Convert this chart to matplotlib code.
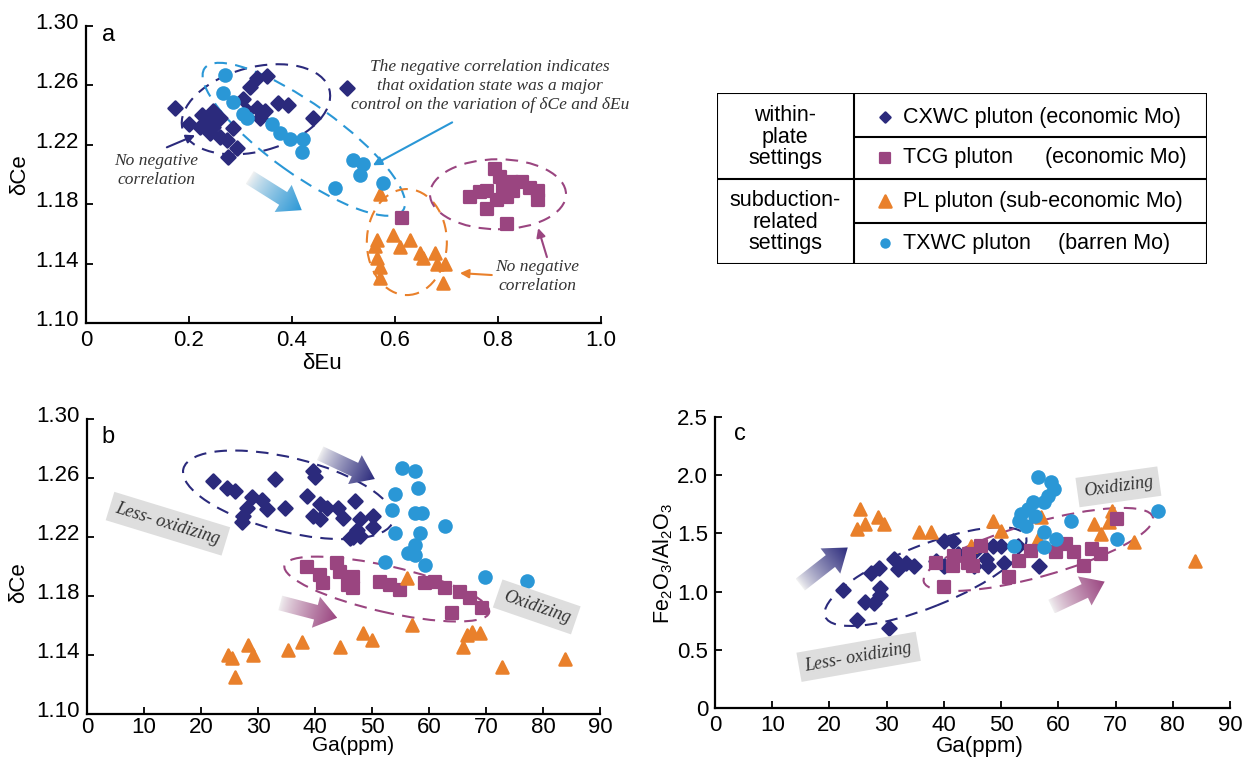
import numpy as np
import matplotlib
matplotlib.use("Agg")
import matplotlib.pyplot as plt
import matplotlib.transforms as mtransforms
from matplotlib.patches import Ellipse, Polygon, Rectangle
from matplotlib.markers import MarkerStyle
from matplotlib.colors import to_rgb

plt.rcParams['font.family'] = ['Liberation Sans', 'DejaVu Sans']
plt.rcParams['mathtext.fontset'] = 'custom'
plt.rcParams['mathtext.rm'] = 'Liberation Sans'
plt.rcParams['mathtext.it'] = 'Liberation Sans:italic'

# --- colours ---
NAVY = '#2b2a7c'
PURPLE = '#9a4580'
ORANGE = '#e9802b'
BLUE = '#2a97d6'
TXT = '#333333'

# --- panel a: dEu vs dCe ---
cxwc_a_eu = [0.173, 0.200, 0.225, 0.237, 0.247, 0.241, 0.260, 0.274, 0.293, 0.276, 0.286, 0.305, 0.318,
             0.332, 0.351, 0.312, 0.332, 0.348, 0.373, 0.392, 0.441, 0.507, 0.338, 0.260, 0.247, 0.221]
cxwc_a_ce = [1.2445, 1.234, 1.240, 1.236, 1.232, 1.228, 1.225, 1.223, 1.218, 1.212, 1.231, 1.251, 1.259,
             1.265, 1.266, 1.243, 1.245, 1.243, 1.248, 1.247, 1.238, 1.258, 1.238, 1.238, 1.243, 1.232]
tcg_a_eu = [0.614, 0.746, 0.765, 0.778, 0.794, 0.804, 0.810, 0.817, 0.829, 0.847, 0.862, 0.878, 0.878,
            0.778, 0.817, 0.798, 0.827]
tcg_a_ce = [1.1706, 1.185, 1.188, 1.189, 1.204, 1.198, 1.191, 1.185, 1.189, 1.195, 1.191, 1.189, 1.183,
            1.177, 1.167, 1.183, 1.195]
pl_a_eu = [0.571, 0.565, 0.596, 0.610, 0.629, 0.565, 0.571, 0.571, 0.649, 0.654, 0.678, 0.681, 0.697,
           0.693, 0.561]
pl_a_ce = [1.187, 1.156, 1.159, 1.151, 1.156, 1.144, 1.138, 1.130, 1.147, 1.144, 1.147, 1.140, 1.140,
           1.127, 1.152]
txwc_a_eu = [0.270, 0.266, 0.285, 0.312, 0.305, 0.361, 0.377, 0.396, 0.421, 0.419, 0.518, 0.538, 0.532,
             0.577, 0.483]
txwc_a_ce = [1.267, 1.255, 1.249, 1.238, 1.241, 1.234, 1.228, 1.224, 1.224, 1.215, 1.210, 1.207, 1.200,
             1.194, 1.191]

# --- panel b: Ga vs dCe ---
cxwc_b_ga = [22.1, 24.5, 26.0, 33.0, 39.6, 40.0, 28.9, 30.7, 31.6, 28.0, 27.4, 27.2, 34.7, 38.6, 40.9,
             42.1, 44.0, 39.7, 40.9, 44.9, 47.0, 47.9, 50.2, 47.4, 46.7, 50.2, 47.9, 46.1]
cxwc_b_ce = [1.258, 1.253, 1.251, 1.259, 1.265, 1.261, 1.247, 1.245, 1.239, 1.240, 1.234, 1.230, 1.240,
             1.248, 1.2425, 1.240, 1.240, 1.2345, 1.232, 1.233, 1.2445, 1.2325, 1.2345, 1.2245, 1.2197,
             1.2265, 1.221, 1.219]
tcg_b_ga = [38.6, 40.9, 41.4, 43.9, 44.4, 46.7, 45.8, 46.7, 51.4, 53.2, 54.9, 59.3, 61.1, 62.8, 65.4,
            67.2, 69.3, 64.0]
tcg_b_ce = [1.1995, 1.194, 1.1887, 1.2022, 1.196, 1.1928, 1.1874, 1.1854, 1.1894, 1.1874, 1.184, 1.1887,
            1.1894, 1.1854, 1.1827, 1.1787, 1.172, 1.1686]
pl_b_ga = [24.7, 25.4, 26.0, 28.3, 29.1, 35.3, 37.7, 44.4, 48.4, 50.0, 56.1, 57.0, 66.0, 66.7, 67.5,
           68.9, 72.8, 83.9]
pl_b_ce = [1.1403, 1.138, 1.1249, 1.147, 1.1403, 1.1437, 1.149, 1.1457, 1.155, 1.1504, 1.192, 1.1605,
           1.1457, 1.1538, 1.1558, 1.1551, 1.1316, 1.137]
txwc_b_ga = [55.3, 57.5, 58.1, 54.0, 53.5, 57.5, 58.8, 54.0, 58.4, 62.8, 57.5, 56.3, 57.5, 52.3, 59.3,
             69.8, 77.2]
txwc_b_ce = [1.2667, 1.2647, 1.2533, 1.249, 1.238, 1.236, 1.236, 1.223, 1.223, 1.2277, 1.2143, 1.209,
             1.2076, 1.2029, 1.201, 1.1928, 1.190]

# --- panel c: Ga vs Fe2O3/Al2O3 ---
cxwc_c_ga = [22.3, 24.9, 26.3, 27.7, 28.9, 28.9, 27.2, 28.6, 30.4, 31.2, 31.9, 33.3, 34.7, 40.0, 41.6,
             38.6, 40.0, 42.5, 45.3, 47.4, 47.7, 48.6, 50.0, 50.5, 53.0, 56.7, 45.3]
cxwc_c_fa = [1.017, 0.759, 0.914, 0.905, 1.034, 0.974, 1.164, 1.207, 0.690, 1.276, 1.190, 1.250, 1.216,
             1.431, 1.431, 1.259, 1.216, 1.319, 1.336, 1.276, 1.216, 1.388, 1.388, 1.250, 1.388, 1.216,
             1.216]
tcg_c_ga = [38.6, 40.0, 41.8, 41.6, 44.2, 44.4, 46.5, 45.1, 51.4, 53.2, 55.3, 59.6, 61.4, 62.8, 64.4,
            65.8, 67.5, 70.2]
tcg_c_fa = [1.250, 1.043, 1.302, 1.216, 1.250, 1.319, 1.388, 1.216, 1.129, 1.259, 1.345, 1.336, 1.405,
            1.336, 1.216, 1.362, 1.319, 1.620]
pl_c_ga = [25.4, 24.9, 26.3, 28.4, 29.5, 35.6, 37.7, 44.7, 48.6, 50.0, 56.5, 57.0, 66.3, 67.5, 68.8,
           69.3, 73.2, 83.9]
pl_c_fa = [1.707, 1.534, 1.578, 1.638, 1.578, 1.509, 1.509, 1.388, 1.603, 1.517, 1.448, 1.638, 1.578,
           1.491, 1.595, 1.690, 1.422, 1.259]
txwc_c_ga = [56.5, 58.8, 59.3, 58.2, 57.5, 55.6, 54.7, 53.5, 53.2, 54.4, 57.5, 59.6, 57.5, 52.3, 62.3,
             70.2, 77.5, 56.0]
txwc_c_fa = [1.983, 1.940, 1.879, 1.819, 1.767, 1.767, 1.707, 1.664, 1.603, 1.560, 1.509, 1.448, 1.379,
             1.388, 1.603, 1.448, 1.690, 1.650]

legend_names = ['CXWC pluton (economic Mo)', 'TCG pluton', 'PL pluton (sub-economic Mo)', 'TXWC pluton']
legend_tails = ['', '(economic Mo)', '', '(barren Mo)']

W, H, DPI = 1246, 758, 100
fig = plt.figure(figsize=(W / DPI, H / DPI), dpi=DPI)

STYLES = {
    'cxwc': dict(marker=MarkerStyle('D', joinstyle='round'), ms=7, color=NAVY, mec=NAVY, mew=1.8),
    'tcg': dict(marker=MarkerStyle('s', joinstyle='round'), ms=8, color=PURPLE, mec=PURPLE, mew=1.6),
    'pl': dict(marker=MarkerStyle('^', joinstyle='round'), ms=8.5, color=ORANGE, mec=ORANGE, mew=1.8),
    'txwc': dict(marker='o', ms=10.5, color=BLUE, mec=BLUE, mew=0),
}


def pts(ax, x, y, key, z=3):
    ax.plot(x, y, ls='none', zorder=z, **STYLES[key])


def setup(ax, xlim, ylim, xticks, xlabels, yticks, ylabels, shift_y=True):
    ax.set_xlim(*xlim)
    ax.set_ylim(*ylim)
    for s in ['top', 'right']:
        ax.spines[s].set_visible(False)
    for s in ['left', 'bottom']:
        ax.spines[s].set_linewidth(1.6)
    ax.set_xticks(xticks)
    ax.set_xticklabels(xlabels)
    ax.set_yticks(yticks)
    ax.set_yticklabels(ylabels)
    ax.tick_params(direction='in', length=5, width=1.3, labelsize=16, pad=5)
    if shift_y:
        off = mtransforms.ScaledTranslation(0, 0.05, fig.dpi_scale_trans)
        for lab in ax.get_yticklabels():
            lab.set_transform(lab.get_transform() + off)


def dashed_ellipse(ax, cx, cy, a_px, b_px, ang, color):
    tr = fig.dpi_scale_trans + mtransforms.ScaledTranslation(cx, cy, ax.transData)
    ax.add_patch(Ellipse((0, 0), 2 * a_px / DPI, 2 * b_px / DPI, angle=ang, transform=tr,
                         fill=False, ec=color, lw=1.5, ls=(0, (6, 4)), zorder=2))


def grad_arrow(ax, tail, head, color, shaft=15, hw=32, hl=22):
    p0 = ax.transData.transform(tail)
    p1 = ax.transData.transform(head)
    d = p1 - p0
    L = np.hypot(*d)
    u = d / L
    n = np.array([-u[1], u[0]])
    base = p1 - u * hl
    poly_px = np.array([p0 + n * shaft / 2, base + n * shaft / 2, base + n * hw / 2, p1,
                        base - n * hw / 2, base - n * shaft / 2, p0 - n * shaft / 2])
    poly_d = ax.transData.inverted().transform(poly_px)
    poly = Polygon(poly_d, closed=True, fc='none', ec='none')
    ax.add_patch(poly)
    x0, y0 = poly_d.min(0)
    x1, y1 = poly_d.max(0)
    gx, gy = np.meshgrid(np.linspace(x0, x1, 120), np.linspace(y0, y1, 120))
    disp = ax.transData.transform(np.column_stack([gx.ravel(), gy.ravel()]))
    t = (((disp - p0) @ u) / L).reshape(gx.shape).clip(0, 1) ** 0.8
    c0 = np.array(to_rgb('#f2f2f2'))
    c1 = np.array(to_rgb(color))
    img = c0 + (c1 - c0) * t[..., None]
    im = ax.imshow(img, extent=(x0, x1, y0, y1), origin='lower', aspect='auto',
                   interpolation='bilinear', zorder=2)
    im.set_clip_path(poly)


def note(ax, x, y, s, **kw):
    ax.text(x, y, s, family='Liberation Serif', style='italic', fontsize=12.5, color=TXT,
            ha='center', va='center', **kw)


def tag(ax, x, y, s, rot):
    ax.text(x, y, s, family='Liberation Serif', style='italic', fontsize=13, color=TXT,
            ha='center', va='center', rotation=rot, rotation_mode='anchor', zorder=4,
            bbox=dict(boxstyle='square,pad=0.35', fc='#dedede', ec='none'))


def arrow(ax, tail, head, color):
    ax.annotate('', xy=head, xytext=tail,
                arrowprops=dict(arrowstyle='-|>', color=color, lw=1.5, mutation_scale=13,
                                shrinkA=0, shrinkB=0))


# ===== panel a =====
axA = fig.add_axes([86 / W, 1 - 323 / H, 515 / W, 297 / H])
setup(axA, (0, 1.0), (1.10, 1.30), [0, 0.2, 0.4, 0.6, 0.8, 1.0], ['0', '0.2', '0.4', '0.6', '0.8', '1.0'],
      [1.10, 1.14, 1.18, 1.22, 1.26, 1.30], ['1.10', '1.14', '1.18', '1.22', '1.26', '1.30'])
dashed_ellipse(axA, 0.330, 1.2439, 76, 42, 15, NAVY)
dashed_ellipse(axA, 0.423, 1.2237, 122, 35, -35.6, BLUE)
dashed_ellipse(axA, 0.623, 1.1545, 40, 53, 0, ORANGE)
dashed_ellipse(axA, 0.800, 1.1867, 68, 35, 0, PURPLE)
pts(axA, cxwc_a_eu, cxwc_a_ce, 'cxwc')
pts(axA, tcg_a_eu, tcg_a_ce, 'tcg')
pts(axA, pl_a_eu, pl_a_ce, 'pl')
pts(axA, txwc_a_eu, txwc_a_ce, 'txwc')
grad_arrow(axA, (0.318, 1.198), (0.419, 1.176), BLUE)
note(axA, 0.784, 1.2593, 'The negative correlation indicates\nthat oxidation state was a major\n'
     'control on the variation of δCe and δEu', linespacing=1.25)
note(axA, 0.136, 1.2029, 'No negative\ncorrelation', linespacing=1.25)
note(axA, 0.876, 1.1316, 'No negative\ncorrelation', linespacing=1.25)
arrow(axA, (0.711, 1.2351), (0.557, 1.2062), BLUE)
arrow(axA, (0.157, 1.2183), (0.212, 1.2264), NAVY)
arrow(axA, (0.788, 1.1323), (0.726, 1.1336), ORANGE)
arrow(axA, (0.895, 1.1444), (0.878, 1.1639), PURPLE)
axA.text(0.043, 0.97, 'a', transform=axA.transAxes, fontsize=17, ha='center', va='center')
axA.text(0.458, -0.135, 'δEu', transform=axA.transAxes, fontsize=16, ha='center', va='center')
axA.text(-0.128, 0.498, 'δCe', transform=axA.transAxes, fontsize=16, ha='center', va='center',
         rotation=90)

# ===== panel b =====
axB = fig.add_axes([87 / W, 1 - 714 / H, 513 / W, 295 / H])
ga_ticks = list(range(0, 91, 10))
setup(axB, (0, 90), (1.10, 1.30), ga_ticks, [str(v) for v in ga_ticks],
      [1.10, 1.14, 1.18, 1.22, 1.26, 1.30], ['1.10', '1.14', '1.18', '1.22', '1.26', '1.30'])
axB.tick_params(axis='x', pad=2)
dashed_ellipse(axB, 35.3, 1.2486, 108, 37, -13.9, NAVY)
dashed_ellipse(axB, 52.6, 1.1847, 105, 23, -12.9, PURPLE)
pts(axB, cxwc_b_ga, cxwc_b_ce, 'cxwc')
pts(axB, tcg_b_ga, tcg_b_ce, 'tcg')
pts(axB, pl_b_ga, pl_b_ce, 'pl')
pts(axB, txwc_b_ga, txwc_b_ce, 'txwc')
grad_arrow(axB, (40.9, 1.2768), (50.5, 1.2593), NAVY)
grad_arrow(axB, (33.9, 1.1753), (43.9, 1.1652), PURPLE)
tag(axB, 14.2, 1.229, 'Less- oxidizing', -17)
tag(axB, 78.9, 1.1726, 'Oxidizing', -19)
axB.text(0.041, 0.94, 'b', transform=axB.transAxes, fontsize=17, ha='center', va='center')
axB.text(0.519, -0.14, 'Ga(ppm)', transform=axB.transAxes, fontsize=15, ha='center', va='bottom')
axB.text(-0.134, 0.444, 'δCe', transform=axB.transAxes, fontsize=16, ha='center', va='center',
         rotation=90)

# ===== panel c =====
axC = fig.add_axes([715 / W, 1 - 708 / H, 515 / W, 291 / H])
setup(axC, (0, 90), (0, 2.5), ga_ticks, [str(v) for v in ga_ticks],
      [0, 0.5, 1.0, 1.5, 2.0, 2.5], ['0', '0.5', '1.0', '1.5', '2.0', '2.5'], shift_y=False)
dashed_ellipse(axC, 36.8, 1.129, 108, 31, 21.8, NAVY)
dashed_ellipse(axC, 56.5, 1.362, 119, 27, 15.8, PURPLE)
pts(axC, cxwc_c_ga, cxwc_c_fa, 'cxwc')
pts(axC, pl_c_ga, pl_c_fa, 'pl')
pts(axC, tcg_c_ga, tcg_c_fa, 'tcg')
pts(axC, txwc_c_ga, txwc_c_fa, 'txwc')
grad_arrow(axC, (14.9, 1.06), (23.2, 1.379), NAVY)
grad_arrow(axC, (58.8, 0.871), (68.1, 1.086), PURPLE)
tag(axC, 25.1, 0.44, 'Less- oxidizing', 10)
tag(axC, 70.5, 1.90, 'Oxidizing', 8)
axC.text(0.049, 0.94, 'c', transform=axC.transAxes, fontsize=17, ha='center', va='center')
axC.text(0.515, -0.134, 'Ga(ppm)', transform=axC.transAxes, fontsize=16, ha='center', va='center')
axC.text(-0.1, 0.498, r'Fe$_2$O$_3$/Al$_2$O$_3$', transform=axC.transAxes, fontsize=15.5,
         ha='center', va='center', rotation=90)

# ===== legend table =====
axL = fig.add_axes([717 / W, 1 - 264 / H, 490 / W, 171 / H])
axL.set_xlim(0, 490)
axL.set_ylim(171, 0)
axL.axis('off')
lk = dict(color='black', lw=1.5, solid_capstyle='butt')
axL.add_patch(Rectangle((0, 0), 490, 171, fill=False, ec='black', lw=1.5))
axL.plot([137, 137], [0, 171], **lk)
axL.plot([0, 490], [86, 86], **lk)
axL.plot([137, 490], [44, 44], **lk)
axL.plot([137, 490], [130, 130], **lk)
axL.text(68, 44, 'within-\nplate\nsettings', fontsize=15.5, ha='center', va='center', linespacing=1.05)
axL.text(68, 129, 'subduction-\nrelated\nsettings', fontsize=15.5, ha='center', va='center',
         linespacing=1.05)
row_y = [24, 65, 108, 150]
leg_ms = {'cxwc': 5.5, 'tcg': 6.5, 'pl': 8, 'txwc': 7.5}
for key, name, tail, yy in zip(['cxwc', 'tcg', 'pl', 'txwc'], legend_names, legend_tails, row_y):
    st = dict(STYLES[key])
    st['ms'] = leg_ms[key]
    axL.plot([168], [yy], ls='none', clip_on=False, **st)
    axL.text(186, yy, name, fontsize=15.5, ha='left', va='center')
axL.text(328, row_y[1], legend_tails[1], fontsize=15.5, ha='left', va='center')
axL.text(341, row_y[3], legend_tails[3], fontsize=15.5, ha='left', va='center')

fig.savefig('out.png', dpi=DPI)
